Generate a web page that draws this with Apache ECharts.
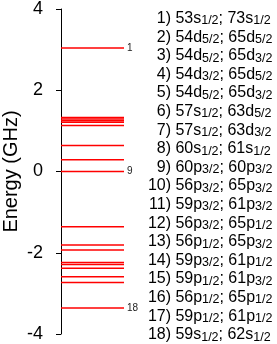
<!DOCTYPE html>
<html><head><meta charset="utf-8">
<script src="https://cdn.jsdelivr.net/npm/echarts@6/dist/echarts.min.js"></script>
<style>html,body{margin:0;padding:0;background:#fff}#c{width:277px;height:344px}</style>
</head><body><div id="c"></div>
<script>
// Pair-state energies (GHz), top to bottom, labelled 1..18
const energies = [3.04, 1.33, 1.29, 1.25, 1.21, 1.13, 0.64, 0.29, 0, -1.36, -1.81, -1.93, -2.24, -2.29, -2.38, -2.59, -2.73, -3.36];
const markedLines = [1, 9, 18];
const yTicks = [-4, -2, 0, 2, 4];
const axisName = 'Energy (GHz)';
// legend: first state; j of first; second state; j of second
const stateA = ['53s','54d','54d','54d','54d','57s','57s','60s','60p','56p','59p','56p','56p','59p','59p','56p','59p','59s'];
const jA     = ['1/2','5/2','5/2','3/2','5/2','1/2','1/2','1/2','3/2','3/2','3/2','3/2','1/2','3/2','1/2','1/2','1/2','1/2'];
const stateB = ['73s','65d','65d','65d','65d','63d','63d','61s','60p','65p','61p','65p','65p','61p','61p','65p','61p','62s'];
const jB     = ['1/2','5/2','3/2','5/2','3/2','5/2','3/2','1/2','3/2','3/2','3/2','1/2','3/2','1/2','3/2','1/2','1/2','1/2'];

const FF = '"Liberation Sans", Arial, Helvetica, sans-serif';
const chart = echarts.init(document.getElementById('c'), null, {renderer: 'canvas'});

const richStyle = {
  n: {fontSize: 16, fontFamily: FF, fill: '#000', color: '#000', lineHeight: 18, verticalAlign: 'middle'},
  s: {fontSize: 12.5, fontFamily: FF, fill: '#000', color: '#000', lineHeight: 8, verticalAlign: 'bottom'}
};
const rowY0 = 18.5, rowStep = 18.6;
const graphics = [];
stateA.forEach((a, i) => {
  const y = rowY0 + i * rowStep;
  graphics.push({
    type: 'text', x: 171, y: y, silent: true,
    style: {text: `{n|${i + 1})}`, rich: richStyle, textAlign: 'right', align: 'right', textVerticalAlign: 'middle', verticalAlign: 'middle'}
  });
  graphics.push({
    type: 'text', x: 175.4, y: y, silent: true,
    style: {text: `{n|${a}}{s|${jA[i]}}{n|; ${stateB[i]}}{s|${jB[i]}}`, rich: richStyle, textAlign: 'left', align: 'left', textVerticalAlign: 'middle', verticalAlign: 'middle'}
  });
});

chart.setOption({
  animation: false,
  backgroundColor: '#fff',
  grid: {left: 60, top: 7, width: 64, height: 327, containLabel: false},
  xAxis: {type: 'value', min: 0, max: 1, show: false},
  yAxis: {
    type: 'value', min: yTicks[0], max: yTicks[yTicks.length - 1], interval: yTicks[1] - yTicks[0],
    offset: 7,
    name: axisName, nameLocation: 'middle', nameGap: 33,
    nameTextStyle: {fontSize: 20, fontFamily: FF, color: '#000'},
    axisLine: {show: true, lineStyle: {color: '#000', width: 1}},
    axisTick: {show: true, length: 5, inside: false, lineStyle: {color: '#000', width: 1}},
    axisLabel: {fontSize: 18, fontFamily: FF, color: '#000', margin: 11},
    splitLine: {show: false}
  },
  series: [{
    type: 'custom',
    coordinateSystem: 'cartesian2d',
    encode: {y: 0},
    dimensions: ['energy'],
    data: energies.map(e => [e]),
    renderItem: function (params, api) {
      const v = api.value(0);
      const idx = params.dataIndex + 1;
      const p0 = api.coord([0, v]);
      const p1 = api.coord([1, v]);
      const children = [{
        type: 'line',
        shape: {x1: p0[0], y1: p0[1], x2: p1[0], y2: p1[1]},
        style: {stroke: '#ff0000', lineWidth: 1.5}
      }];
      if (markedLines.indexOf(idx) >= 0) {
        children.push({
          type: 'text',
          style: {text: String(idx), x: p1[0] + 3, y: p1[1], fill: '#222', fontSize: 10, fontFamily: FF,
                  textVerticalAlign: 'middle', verticalAlign: 'middle', textAlign: 'left', align: 'left'}
        });
      }
      return {type: 'group', children: children};
    }
  }],
  graphic: graphics
});
</script>
</body></html>
